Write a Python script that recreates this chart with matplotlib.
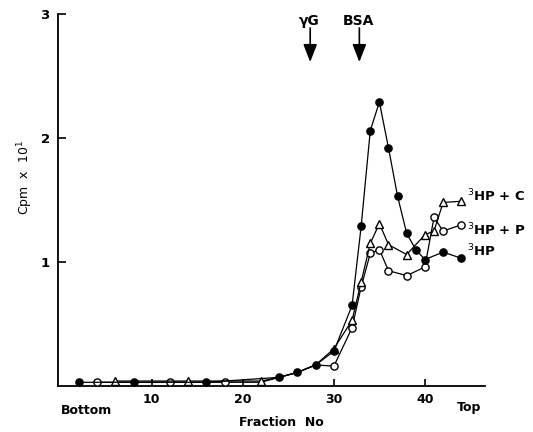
import matplotlib
matplotlib.use("Agg")
import matplotlib.pyplot as plt

# ---- data ----
fractions_hp = [2, 8, 16, 24, 26, 28, 30, 32, 33, 34, 35, 36, 37, 38, 39, 40, 42, 44]
cpm_hp = [0.03, 0.03, 0.03, 0.07, 0.11, 0.17, 0.28, 0.65, 1.29, 2.06, 2.29, 1.92,
          1.53, 1.23, 1.10, 1.02, 1.08, 1.03]
marks_hp = [True] * len(fractions_hp)

fractions_hpp = [4, 12, 18, 22, 24, 26, 28, 30, 32, 33, 34, 35, 36, 38, 40, 41, 42, 44]
cpm_hpp = [0.03, 0.03, 0.03, 0.03, 0.07, 0.11, 0.17, 0.16, 0.47, 0.80, 1.07, 1.10,
           0.93, 0.89, 0.96, 1.36, 1.25, 1.30]
marks_hpp = [True, True, True, False, False, False, False, True, True, True, True,
             True, True, True, True, True, True, True]

fractions_hpc = [6, 14, 22, 24, 26, 28, 30, 32, 33, 34, 35, 36, 38, 40, 41, 42, 44]
cpm_hpc = [0.04, 0.04, 0.04, 0.07, 0.11, 0.17, 0.30, 0.53, 0.84, 1.15, 1.31, 1.14,
           1.06, 1.22, 1.25, 1.48, 1.49]
marks_hpc = [True, True, True, False, False, False, True, True, True, True, True,
             True, True, True, True, True, True]

x_ticks = [10, 20, 30, 40]
y_ticks = [1, 2, 3]
arrow_labels = ["\u03b3G", "BSA"]
arrow_fractions = [27.4, 32.8]
series_labels = ["$^3$HP + C", "$^3$HP + P", "$^3$HP"]

W, H = 533, 432
fig = plt.figure(figsize=(W / 100, H / 100), dpi=100)
ax = fig.add_axes([58 / W, (H - 386) / H, 427 / W, 372 / H])

lw = 0.9
ms = 5.2
ax.plot(fractions_hpp, cpm_hpp, color="black", lw=lw, marker="o", ms=ms,
        mfc="white", mec="black", mew=1.0, markevery=marks_hpp, zorder=3)
ax.plot(fractions_hpc, cpm_hpc, color="black", lw=lw, marker="^", ms=ms + 0.6,
        mfc="white", mec="black", mew=1.0, markevery=marks_hpc, zorder=3)
ax.plot(fractions_hp, cpm_hp, color="black", lw=lw, marker="o", ms=ms,
        mfc="black", mec="black", markevery=marks_hp, zorder=4)

ax.set_xlim(-0.3, 46.6)
ax.set_ylim(0, 3)
ax.spines["top"].set_visible(False)
ax.spines["right"].set_visible(False)
ax.spines["left"].set_linewidth(1.3)
ax.spines["bottom"].set_linewidth(1.3)

ax.set_xticks(x_ticks)
ax.set_xticklabels([str(t) for t in x_ticks], fontsize=9, fontweight="bold")
ax.set_yticks(y_ticks)
ax.set_yticklabels([str(t) for t in y_ticks], fontsize=9.5, fontweight="bold")
ax.tick_params(axis="x", direction="in", length=5, width=1.2, pad=5)
ax.tick_params(axis="y", direction="in", length=6, width=1.2, pad=6)

# axis texts
fig.text(61 / W, 1 - 411 / H, "Bottom", fontsize=9, fontweight="bold",
         ha="left", va="center")
fig.text(281 / W, 1 - 423 / H, "Fraction  No", fontsize=9, fontweight="bold",
         ha="center", va="center")
fig.text(469 / W, 1 - 407 / H, "Top", fontsize=9, fontweight="bold",
         ha="center", va="center")
fig.text(25 / W, 1 - 178 / H, "Cpm  x  10$^1$", fontsize=9, rotation=90,
         ha="center", va="center")

# arrows
for lab, xf in zip(arrow_labels, arrow_fractions):
    ax.annotate("", xy=(xf, 2.59), xytext=(xf, 2.91),
                arrowprops=dict(arrowstyle="-|>,head_width=0.35,head_length=0.9",
                                color="black", lw=1.2, mutation_scale=12),
                annotation_clip=False)
    ax.text(xf - 0.1, 2.945, lab, fontsize=10, fontweight="bold",
            ha="center", va="center", clip_on=False)

# series labels
label_y = [196, 230, 251]
for lab, yy in zip(series_labels, label_y):
    fig.text(467 / W, 1 - yy / H, lab, fontsize=9.5, fontweight="bold",
             ha="left", va="center")

fig.savefig("out.png", dpi=100)
